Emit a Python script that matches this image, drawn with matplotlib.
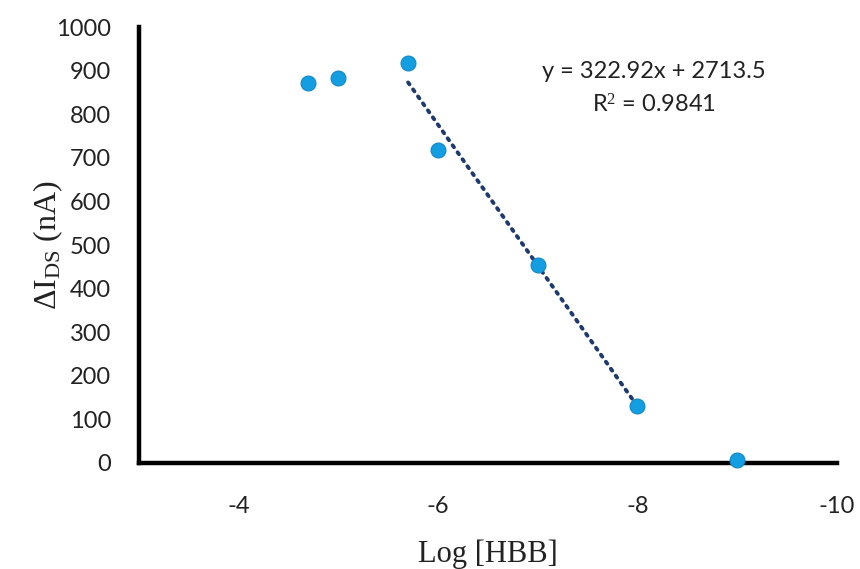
import matplotlib
matplotlib.use("Agg")
import matplotlib.pyplot as plt
import numpy as np

log_hbb = [-4.7, -5.0, -5.7, -6.0, -7.0, -8.0, -9.0]
delta_ids = [872, 883, 917, 718, 454, 131, 7]
fit_x = [-5.7, -8.0]
slope, intercept = 322.92, 2713.5
eq_text = "y = 322.92x + 2713.5\nR$^2$ = 0.9841"
xticks = [-4, -6, -8, -10]
yticks = list(range(0, 1001, 100))

plt.rcParams['mathtext.fontset'] = 'custom'
plt.rcParams['mathtext.rm'] = 'Liberation Serif'
plt.rcParams['mathtext.it'] = 'Liberation Serif:italic'
plt.rcParams['mathtext.bf'] = 'Liberation Serif:bold'

tick_font = ['Lato', 'DejaVu Sans']
serif_font = ['Liberation Serif', 'DejaVu Serif']

fig = plt.figure(figsize=(8.6, 5.69), dpi=100)
ax = fig.add_axes([0.1616, 0.1863, 0.8114, 0.7662])

fx = np.array(fit_x)
ax.plot(fx, slope * fx + intercept, linestyle=(0, (0.6, 1.6)), color='#1f3a6e',
        linewidth=2.8, dash_capstyle='round', zorder=2)
ax.scatter(log_hbb, delta_ids, s=115, color='#129ee0', edgecolor='#1287c8',
           linewidth=0.8, zorder=3, clip_on=False)

ax.set_xlim(-3, -10)
ax.set_ylim(0, 1000)
ax.set_xticks(xticks)
ax.set_yticks(yticks)
ax.set_xticklabels([str(t) for t in xticks], fontsize=17, family=tick_font, color='#222222')
ax.set_yticklabels([str(t) for t in yticks], fontsize=17, family=tick_font, color='#222222')
ax.tick_params(axis='x', length=0, pad=24)
ax.tick_params(axis='y', length=0, pad=20)

for s in ['top', 'right']:
    ax.spines[s].set_visible(False)
for s in ['left', 'bottom']:
    ax.spines[s].set_linewidth(3.2)
    ax.spines[s].set_color('black')

ax.set_xlabel('Log [HBB]', fontsize=22, family=serif_font, labelpad=16, color='#222222')
ax.set_ylabel(r'$\Delta\mathrm{I}_{\mathrm{DS}}$ (nA)', fontsize=23, family=serif_font,
              labelpad=-6, color='#222222')

ax.text(0.738, 0.858, eq_text, transform=ax.transAxes, ha='center', va='center',
        fontsize=17, family=tick_font, linespacing=1.6, color='#222222')

fig.savefig('out.png', dpi=100)
